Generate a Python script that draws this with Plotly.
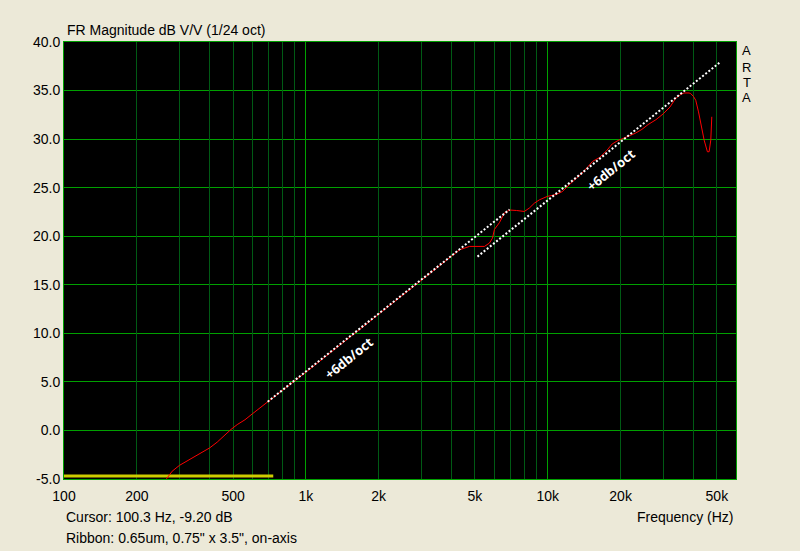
import math
import plotly.graph_objects as go

# ---------------- data ----------------
red_freq = [265, 280, 300, 330, 360, 400, 430, 460, 490, 520,
            560, 600, 650, 700, 1000, 1500, 2000, 3000, 4000, 4316,
            4747, 5474, 5741, 5906, 6020, 6313, 6620, 6946, 7424, 8000,
            8390, 8800, 9236, 9960, 10840, 11490, 12270, 12870, 14000, 15300,
            16350, 17500, 18460, 19500, 21000, 23000, 24500, 26000, 28000, 30000,
            32000, 33800, 35500, 36600, 38400, 39000, 40000, 40900, 42000, 42900,
            44300, 45700, 46450, 47200, 47650]
red_db = [-5.0, -4.2, -3.6, -3.0, -2.5, -1.8, -1.2, -0.5, 0.1, 0.6,
          1.1, 1.7, 2.4, 3.0, 6.0, 9.5, 12.0, 15.5, 17.9, 18.6,
          18.95, 18.95, 19.3, 19.8, 20.7, 21.4, 22.4, 22.7, 22.65, 22.55,
          22.9, 23.4, 23.75, 24.1, 24.3, 24.6, 25.3, 25.8, 26.6, 27.7,
          28.1, 28.8, 29.5, 29.85, 30.2, 30.6, 31.0, 31.5, 32.0, 32.6,
          33.3, 34.2, 34.6, 34.75, 34.75, 34.68, 34.4, 34.0, 32.8, 31.7,
          29.9, 28.7, 28.7, 29.9, 32.3]

slopeA_freq = [695, 6950]
slopeA_db = [2.95, 22.75]
slopeB_freq = [5120, 51200]
slopeB_db = [17.9, 37.85]

yellow_freq = [100, 733]
yellow_db = [-4.68, -4.68]

x_tick_vals = [100, 200, 500, 1000, 2000, 5000, 10000, 20000, 50000]
x_tick_text = ["100", "200", "500", "1k", "2k", "5k", "10k", "20k", "50k"]
x_major_grid = [100, 1000, 10000]
x_minor_grid = [200, 300, 400, 500, 600, 700, 800, 900,
                2000, 3000, 4000, 5000, 6000, 7000, 8000, 9000,
                20000, 30000, 40000, 50000]
y_tick_vals = [-5, 0, 5, 10, 15, 20, 25, 30, 35, 40]
y_tick_text = ["-5.0", "0.0", "5.0", "10.0", "15.0", "20.0", "25.0", "30.0", "35.0", "40.0"]

slope_label = "+6db/oct"
label_pos_freq = [1501, 18160]
label_pos_db = [7.49, 26.85]

side_letters = ["A", "R", "T", "A"]

# ---------------- style ----------------
BG = "#ECE9D8"
MAJOR = "#00A000"
MINOR = "#005A14"
FONT = "Liberation Sans"
XR = [2, math.log10(60000)]
YR = [-5, 40]

fig = go.Figure()
fig.add_trace(go.Scatter(x=yellow_freq, y=yellow_db, mode="lines",
                         line=dict(color="#CCCC00", width=3), xaxis="x", yaxis="y"))
fig.add_trace(go.Scatter(x=red_freq, y=red_db, mode="lines",
                         line=dict(color="#FF0000", width=1), xaxis="x2", yaxis="y"))
for fx, fy in ((slopeA_freq, slopeA_db), (slopeB_freq, slopeB_db)):
    fig.add_trace(go.Scatter(x=fx, y=fy, mode="lines",
                             line=dict(color="#FFFFFF", width=2, dash="2px,2px"),
                             xaxis="x3", yaxis="y"))

fig.update_layout(
    template="none",
    width=800, height=551,
    paper_bgcolor=BG, plot_bgcolor="black",
    margin=dict(l=64, r=64, t=42, b=72, pad=0),
    showlegend=False,
    font=dict(family=FONT, size=14, color="black"),
    xaxis=dict(type="log", range=XR, tickmode="array", tickvals=x_tick_vals,
               ticktext=x_tick_text, showgrid=False, ticks="", zeroline=False,
               showline=True, linecolor=MAJOR, linewidth=1, mirror=True,
               ticklabelstandoff=4, automargin=False,
               tickfont=dict(family=FONT, size=14, color="black")),
    xaxis2=dict(type="log", range=XR, overlaying="x", anchor="y", side="bottom",
                tickmode="array", tickvals=x_minor_grid, showticklabels=False,
                showgrid=True, gridcolor=MINOR, gridwidth=1, ticks="", zeroline=False,
                showline=False, automargin=False),
    xaxis3=dict(type="log", range=XR, overlaying="x", anchor="y", side="bottom",
                tickmode="array", tickvals=x_major_grid, showticklabels=False,
                showgrid=True, gridcolor=MAJOR, gridwidth=1, ticks="", zeroline=False,
                showline=False, automargin=False),
    yaxis=dict(range=YR, tickmode="array", tickvals=y_tick_vals, ticktext=y_tick_text,
               showgrid=True, gridcolor=MAJOR, gridwidth=1, ticks="", zeroline=False,
               showline=True, linecolor=MAJOR, linewidth=1, mirror=True, automargin=False,
               tickfont=dict(family=FONT, size=14, color="black")),
)

ann = []
for f, d in zip(label_pos_freq, label_pos_db):
    ann.append(dict(x=math.log10(f), y=d, xref="x3", yref="y", text=slope_label,
                    showarrow=False, textangle=-39,
                    font=dict(family="Open Sans", size=13, color="white", weight="bold")))

ann.append(dict(x=0.0015, y=1.0275, xref="paper", yref="paper", xanchor="left", yanchor="middle",
                text="FR Magnitude dB V/V (1/24 oct)", showarrow=False,
                font=dict(family=FONT, size=14, color="black")))
ann.append(dict(x=0.9985, y=-0.087, xref="paper", yref="paper", xanchor="right", yanchor="middle",
                text="Frequency (Hz)", showarrow=False, font=dict(family=FONT, size=14, color="black")))
ann.append(dict(x=0.0, y=-0.088, xref="paper", yref="paper", xanchor="left", yanchor="middle",
                text="Cursor: 100.3 Hz, -9.20 dB", showarrow=False,
                font=dict(family=FONT, size=14, color="black")))
ann.append(dict(x=0.0, y=-0.1339, xref="paper", yref="paper", xanchor="left", yanchor="middle",
                text="Ribbon: 0.65um, 0.75\" x 3.5\", on-axis", showarrow=False,
                font=dict(family=FONT, size=14, color="black")))
for letter, yy in zip(side_letters, [0.9799, 0.9417, 0.9073, 0.8723]):
    ann.append(dict(x=1.0159, y=yy, xref="paper", yref="paper", xanchor="center", yanchor="middle",
                    text=letter, showarrow=False, borderpad=0,
                    font=dict(family=FONT, size=13, color="black")))

fig.update_layout(annotations=ann)
fig.write_html("out.html", config={"displayModeBar": False},
               post_script="document.body.style.margin='0px';")
